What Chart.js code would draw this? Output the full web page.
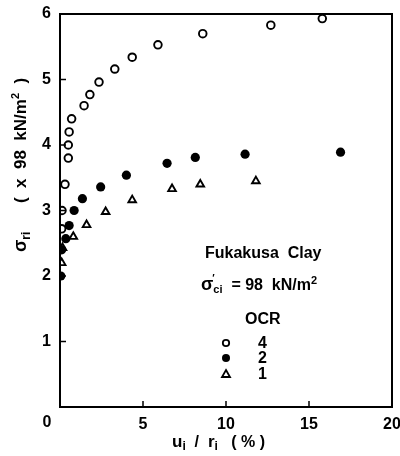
<!DOCTYPE html>
<html>
<head>
<meta charset="utf-8">
<script src="https://cdn.jsdelivr.net/npm/chart.js@4/dist/chart.umd.min.js"></script>
<style>
  body { margin: 0; background: #fff; }
  #wrap { width: 400px; height: 456px; }
</style>
</head>
<body>
<div id="wrap"><canvas id="myChart" width="400" height="456"></canvas></div>
<script>
// values: sigma_ri (x 98 kN/m2) against u_i/r_i (%)
const ocr4X = [0.1, 0.12, 0.3, 0.5, 0.5, 0.55, 0.7, 1.45, 1.8, 2.35, 3.3, 4.35, 5.9, 8.6, 12.7, 15.8];
const ocr4Y = [2.72, 3.0, 3.4, 3.8, 4.0, 4.2, 4.4, 4.6, 4.77, 4.96, 5.16, 5.34, 5.53, 5.7, 5.83, 5.93];
const ocr2X = [0.05, 0.1, 0.35, 0.55, 0.85, 1.35, 2.45, 4.0, 6.45, 8.15, 11.15, 16.9];
const ocr2Y = [2.0, 2.4, 2.57, 2.77, 3.0, 3.18, 3.36, 3.54, 3.72, 3.81, 3.86, 3.89];
const ocr1X = [0.1, 0.15, 0.8, 1.6, 2.75, 4.35, 6.75, 8.45, 11.8];
const ocr1Y = [2.2, 2.43, 2.6, 2.78, 2.98, 3.16, 3.33, 3.4, 3.45];

const xTicks = [5, 10, 15, 20];
const yTicks = [1, 2, 3, 4, 5, 6];
const ocrLabels = ['4', '2', '1'];

const FONT = 'Liberation Sans, Arial, sans-serif';

const pts = (xs, ys) => xs.map((x, i) => ({ x: x, y: ys[i] }));

// frame, inward ticks, origin label, axis titles and the key
const decorations = {
    id: 'decorations',
    afterDraw(chart) {
        const { ctx, chartArea: a, scales: { x, y } } = chart;
        ctx.save();
        ctx.strokeStyle = '#000';
        ctx.fillStyle = '#000';
        ctx.lineWidth = 2;
        ctx.strokeRect(a.left, a.top, a.right - a.left, a.bottom - a.top);

        ctx.lineWidth = 1.5;
        ctx.beginPath();
        xTicks.slice(0, -1).forEach(v => {
            const px = x.getPixelForValue(v);
            ctx.moveTo(px, a.bottom);
            ctx.lineTo(px, a.bottom - 6);
        });
        yTicks.slice(0, -1).forEach(v => {
            const py = y.getPixelForValue(v);
            ctx.moveTo(a.left, py);
            ctx.lineTo(a.left + 6, py);
        });
        ctx.stroke();

        // shared origin label
        ctx.font = 'bold 16px ' + FONT;
        ctx.textAlign = 'center';
        ctx.textBaseline = 'middle';
        ctx.fillText('0', a.left - 13, a.bottom + 16);

        ctx.textAlign = 'left';
        ctx.textBaseline = 'alphabetic';

        // y title (rotated)
        ctx.save();
        ctx.translate(26, 0);
        ctx.rotate(-Math.PI / 2);
        let rx = -252;
        const putR = (t, size, dy) => {
            ctx.font = 'bold ' + size + 'px ' + FONT;
            ctx.fillText(t, rx, dy);
            rx += ctx.measureText(t).width;
        };
        putR('σ', 18, 0);
        putR('ri', 12, 4);
        rx = -203;
        putR('(  x  98  kN/m', 17, 0);
        putR('2', 11, -7);
        putR('  )', 17, 0);
        ctx.restore();

        // x title
        let cx = 172;
        const base = 447;
        const put = (t, size, dy) => {
            ctx.font = 'bold ' + size + 'px ' + FONT;
            ctx.fillText(t, cx, base + dy);
            cx += ctx.measureText(t).width;
        };
        put('u', 17, 0); put('i', 12, 3); put('  /  ', 16, 0); put('r', 17, 0); put('i', 12, 3); put('   ( % )', 16, 0);

        // key
        ctx.font = 'bold 16px ' + FONT;
        ctx.fillText('Fukakusa  Clay', 205, 258);
        cx = 201;
        const base2 = 290;
        const put2 = (t, size, dy) => {
            ctx.font = 'bold ' + size + 'px ' + FONT;
            ctx.fillText(t, cx, base2 + dy);
            cx += ctx.measureText(t).width;
        };
        put2('σ', 18, 0);
        ctx.font = 'bold 10px ' + FONT;
        ctx.fillText('\u2032', cx - 1, base2 - 8);
        put2('ci', 11, 3);
        put2('  = 98  kN/m', 16, 0);
        put2('2', 11, -6);

        ctx.font = 'bold 16px ' + FONT;
        ctx.fillText('OCR', 245, 324);

        const rows = [343, 358, 374];
        const sx = 226;
        ctx.lineWidth = 1.8;
        // open circle
        ctx.beginPath();
        ctx.arc(sx, rows[0], 3.2, 0, Math.PI * 2);
        ctx.stroke();
        // filled circle
        ctx.beginPath();
        ctx.arc(sx, rows[1], 4, 0, Math.PI * 2);
        ctx.fill();
        // open triangle
        ctx.beginPath();
        ctx.moveTo(sx, rows[2] - 4);
        ctx.lineTo(sx + 4, rows[2] + 3);
        ctx.lineTo(sx - 4, rows[2] + 3);
        ctx.closePath();
        ctx.stroke();

        ctx.font = 'bold 16px ' + FONT;
        ctx.textBaseline = 'middle';
        ocrLabels.forEach((t, i) => ctx.fillText(t, 258, rows[i] + 1));
        ctx.restore();
    }
};

const ctx = document.getElementById('myChart').getContext('2d');
const myChart = new Chart(ctx, {
    type: 'scatter',
    data: {
        datasets: [{
            label: 'OCR 4',
            data: pts(ocr4X, ocr4Y),
            pointStyle: 'circle',
            pointRadius: 3.8,
            borderWidth: 1.9,
            borderColor: '#000',
            backgroundColor: 'rgba(255,255,255,0)'
        }, {
            label: 'OCR 2',
            data: pts(ocr2X, ocr2Y),
            pointStyle: 'circle',
            pointRadius: 4.6,
            borderWidth: 0,
            borderColor: '#000',
            backgroundColor: '#000'
        }, {
            label: 'OCR 1',
            data: pts(ocr1X, ocr1Y),
            pointStyle: 'triangle',
            pointRadius: 4.4,
            borderWidth: 1.9,
            borderColor: '#000',
            backgroundColor: 'rgba(255,255,255,0)'
        }]
    },
    options: {
        responsive: false,
        animation: false,
        layout: { padding: { left: 0, right: 8, top: 14, bottom: 0 } },
        plugins: {
            legend: { display: false },
            tooltip: { enabled: false }
        },
        scales: {
            x: {
                type: 'linear',
                min: 0,
                max: 20,
                afterBuildTicks: s => { s.ticks = xTicks.map(v => ({ value: v })); },
                afterFit: s => { s.height = 49; s.paddingLeft = 0; s.paddingRight = 0; },
                grid: { display: false, drawTicks: false },
                border: { display: false },
                ticks: {
                    color: '#000',
                    padding: 8,
                    font: { family: FONT, size: 16, weight: 'bold' }
                }
            },
            y: {
                type: 'linear',
                min: 0,
                max: 6,
                afterBuildTicks: s => { s.ticks = yTicks.map(v => ({ value: v })); },
                afterFit: s => { s.width = 60; s.paddingTop = 0; s.paddingBottom = 0; },
                grid: { display: false, drawTicks: false },
                border: { display: false },
                ticks: {
                    color: '#000',
                    padding: 9,
                    font: { family: FONT, size: 16, weight: 'bold' }
                }
            }
        }
    },
    plugins: [decorations]
});
</script>
</body>
</html>
